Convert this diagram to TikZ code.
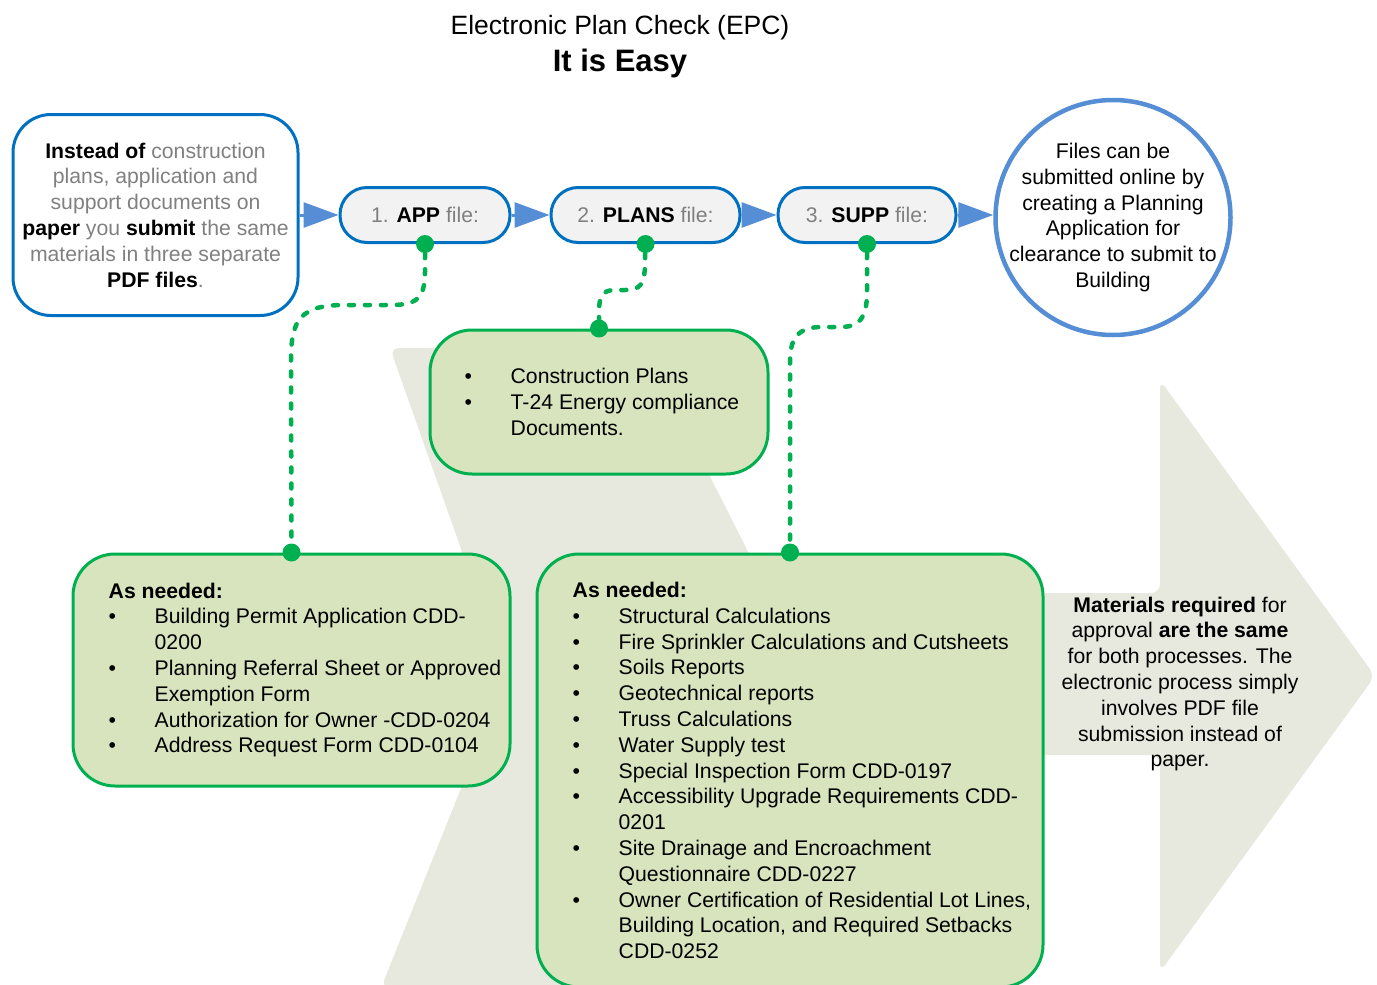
\documentclass[tikz,border=0pt]{standalone}
\usepackage{fontspec}
\setmainfont{Liberation Sans}
\usetikzlibrary{arrows.meta,calc}
\definecolor{epcblue}{RGB}{0,112,192}
\definecolor{epclight}{RGB}{85,142,213}
\definecolor{epcgreen}{RGB}{0,176,80}
\definecolor{epcfill}{RGB}{216,228,189}
\definecolor{epcback}{RGB}{231,233,222}
\definecolor{epcpill}{RGB}{242,242,242}
\definecolor{epcgray}{RGB}{128,128,128}
\def\hl#1{\textbf{\color{black}#1}}
\def\itm#1{\makebox[46pt][l]{\textbullet}#1}
\def\ind{\hspace*{46pt}}
\tikzset{
  body/.style={font=\fontsize{21.2}{25.8}\selectfont, align=center, inner sep=0pt},
  greybox/.style={body, draw=epcblue, line width=3pt, rounded corners=38pt, text=epcgray},
  pill/.style={body, draw=epcblue, fill=epcpill, line width=3pt, rounded corners=27pt, minimum height=55pt, text=epcgray, minimum width=#1},
  greenbox/.style={draw=epcgreen, fill=epcfill, line width=3pt, rounded corners=42pt, inner sep=0pt},
  listtext/.style={body, align=left, anchor=west},
  knob/.style={circle, fill=epcgreen, inner sep=0pt, minimum size=18pt},
  flow/.style={epclight, line width=3pt, -{Triangle[length=35pt,width=25pt]}},
  dotlink/.style={epcgreen, line width=4.5pt, line cap=round, dash pattern=on 5pt off 11pt},
}

\begin{document}
\begin{tikzpicture}[x=1pt,y=-1pt]
	%%%%% START %%%%%
	\useasboundingbox (0,0) rectangle (1377,985);
	
	% big background arrow
	\fill[epcback, rounded corners=9pt] (390,348) -- (645,348) -- (769,593) -- (1160,593) -- (1160,380) -- (1375,676) -- (1160,972) -- (1160,755) -- (800,755) -- (800,988) -- (381,988) -- (506,676) -- cycle;
	
	\node[font=\fontsize{26.5}{30}\selectfont] (ttl) at (620,27.5) {Electronic Plan Check (EPC)};
	\node[font=\fontsize{31}{34}\selectfont\bfseries] (easy) at (620,63) {It is Easy};
	
	\node[greybox, minimum width=285pt, minimum height=201pt] (paper) at (155.5,215) {\hl{Instead of} construction\\ plans, application and\\ support documents on\\ \hl{paper} you \hl{submit} the same\\ materials in three separate\\ \hl{PDF files}.};
	
	\node[pill=170pt] (app) at (425,215) {1. \hl{APP} file:};
	\node[pill=189pt] (plans) at (645.5,215) {2. \hl{PLANS} file:};
	\node[pill=178pt] (supp) at (867,215) {3. \hl{SUPP} file:};
	
	\node[circle, draw=epclight, line width=4.5pt, minimum size=235pt, inner sep=0pt] (online) at (1113,217.5) {};
	\node[body] (onlinetxt) at (online.center) {Files can be\\ submitted online by\\ creating a Planning\\ Application for\\ clearance to submit to\\ Building};
	
	\draw[flow] (paper.east) -- (app.west);
	\draw[flow] (app.east) -- (plans.west);
	\draw[flow] (plans.east) -- (supp.west);
	\draw[flow] (supp.east) -- (supp.east -| online.west);
	
	% lists
	\node[greenbox, minimum width=338pt, minimum height=144pt] (planslist) at (599,402) {};
	\node[greenbox, minimum width=437pt, minimum height=232pt] (applist) at (291.5,670) {};
	\node[greenbox, minimum width=506pt, minimum height=433pt] (supplist) at (790,770.5) {};
	
	\node[listtext] (plansitems) at ([xshift=36pt]planslist.west) {\itm{Construction Plans}\\ \itm{T-24 Energy compliance}\\ \ind Documents.};
	\node[listtext] (appitems) at ([xshift=37pt]applist.west) {\textbf{As needed:}\\ \itm{Building Permit Application CDD-}\\ \ind 0200\\ \itm{Planning Referral Sheet or Approved}\\ \ind Exemption Form\\ \itm{Authorization for Owner -CDD-0204}\\ \itm{Address Request Form CDD-0104}};
	\node[listtext] (suppitems) at ([xshift=37pt]supplist.west) {\textbf{As needed:}\\ \itm{Structural Calculations}\\ \itm{Fire Sprinkler Calculations and Cutsheets}\\ \itm{Soils Reports}\\ \itm{Geotechnical reports}\\ \itm{Truss Calculations}\\ \itm{Water Supply test}\\ \itm{Special Inspection Form CDD-0197}\\ \itm{Accessibility Upgrade Requirements CDD-}\\ \ind 0201\\ \itm{Site Drainage and Encroachment}\\ \ind Questionnaire CDD-0227\\ \itm{Owner Certification of Residential Lot Lines,}\\ \ind Building Location, and Required Setbacks\\ \ind CDD-0252};
	
	\node[body] (samenote) at (1180,684) {\textbf{Materials required} for\\ approval \textbf{are the same}\\ for both processes. The\\ electronic process simply\\ involves PDF file\\ submission instead of\\ paper.};
	
	% dotted links
	\node[knob] (appdot) at (app.south) {};
	\node[knob] (plansdot) at (plans.south) {};
	\node[knob] (suppdot) at (supp.south) {};
	\node[knob] (append) at (applist.north) {};
	\node[knob] (plansend) at (planslist.north) {};
	\node[knob] (suppend) at (supplist.north) {};
	
	\draw[dotlink] (appdot) -- (425,272) .. controls (425,300) and (415,305) .. (390,305) -- (345,305) .. controls (300,305) and (291,320) .. (291,360) -- (append);
	\draw[dotlink] (plansdot) -- (645,262) .. controls (645,285) and (640,290) .. (625,290) -- (615,290) .. controls (602,290) and (599,297) .. (599,312) -- (plansend);
	\draw[dotlink] (suppdot) -- (867,292) .. controls (867,320) and (858,327) .. (840,327) -- (822,327) .. controls (798,327) and (790,338) .. (790,362) -- (suppend);
	
	%%%%% END %%%%%
\end{tikzpicture}
\end{document}
